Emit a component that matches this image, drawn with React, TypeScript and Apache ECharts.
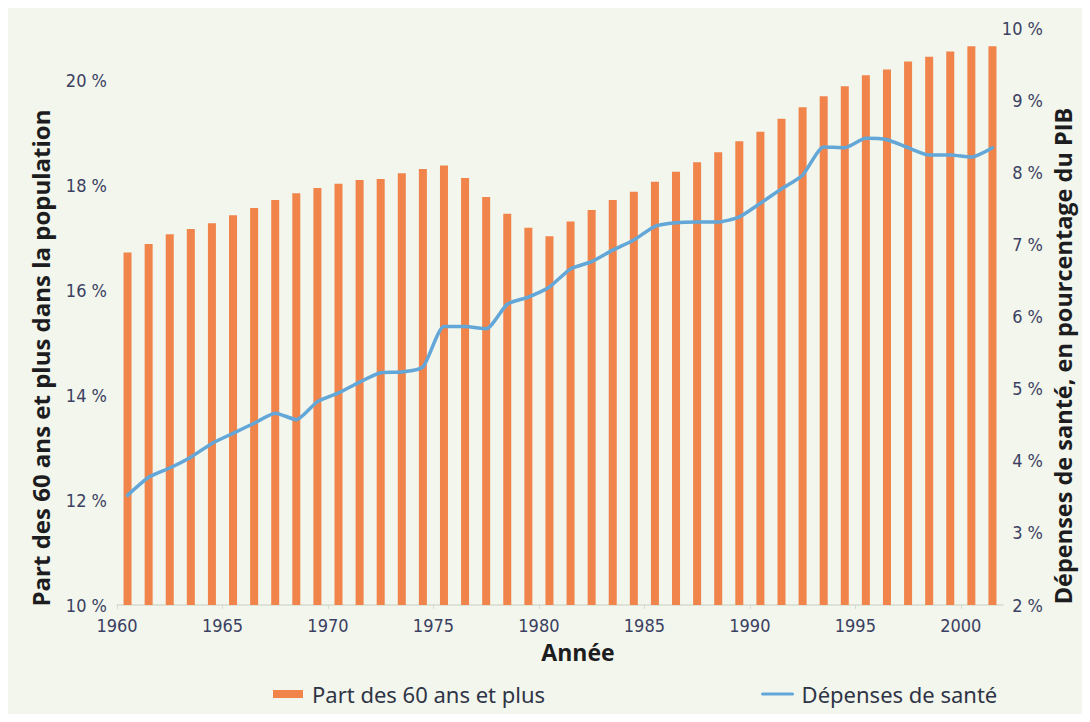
import React, { useEffect, useRef } from "react";
import * as echarts from "echarts";

const years = [
  "1960", "1961", "1962", "1963", "1964", "1965", "1966", "1967", "1968", "1969",
  "1970", "1971", "1972", "1973", "1974", "1975", "1976", "1977", "1978", "1979",
  "1980", "1981", "1982", "1983", "1984", "1985", "1986", "1987", "1988", "1989",
  "1990", "1991", "1992", "1993", "1994", "1995", "1996", "1997", "1998", "1999",
  "2000", "2001",
];

// Part des 60 ans et plus dans la population (%)
const partSeniors = [
  16.72, 16.88, 17.07, 17.17, 17.28, 17.43, 17.57, 17.72, 17.85, 17.95,
  18.03, 18.1, 18.12, 18.23, 18.31, 18.38, 18.14, 17.78, 17.46, 17.19,
  17.03, 17.31, 17.53, 17.72, 17.88, 18.07, 18.26, 18.44, 18.63, 18.84,
  19.02, 19.27, 19.49, 19.7, 19.89, 20.1, 20.21, 20.36, 20.45, 20.55,
  20.65, 20.65,
];

// Dépenses de santé, en pourcentage du PIB (%)
const depensesSante = [
  3.52, 3.77, 3.9, 4.05, 4.24, 4.38, 4.52, 4.66, 4.57, 4.82,
  4.94, 5.09, 5.22, 5.23, 5.3, 5.86, 5.86, 5.83, 6.17, 6.27,
  6.41, 6.66, 6.76, 6.92, 7.06, 7.25, 7.3, 7.31, 7.31, 7.38,
  7.57, 7.77, 7.96, 8.35, 8.34, 8.47, 8.45, 8.34, 8.24, 8.24,
  8.21, 8.34,
];

const xTickStart = 1960;
const xTickEnd = 2002;
const xTickStep = 5;

const leftMin = 10;
const leftMax = 21;
const leftStep = 2;
const rightMin = 2;
const rightMax = 10;
const rightStep = 1;

const seriesNames = ["Part des 60 ans et plus", "Dépenses de santé"];
const titles = {
  left: "Part des 60 ans et plus dans la population",
  right: "Dépenses de santé, en pourcentage du PIB",
  x: "Année",
};

const ORANGE = "#f0844b";
const BLUE = "#63a6d8";
const TICK_COLOR = "#3b4062";
const TITLE_COLOR = "#1d1d1f";
const TICK_FONT = "'Liberation Sans Narrow', 'DejaVu Sans Condensed', Roboto, sans-serif";
const TITLE_FONT = "'Open Sans', 'Noto Sans', sans-serif";

export default function App() {
  const ref = useRef<HTMLDivElement>(null);

  useEffect(() => {
    if (!ref.current) return;
    const chart = echarts.init(ref.current, undefined, { renderer: "svg" });
    const tickLabel = {
      color: TICK_COLOR,
      fontFamily: TICK_FONT,
      fontSize: 18,
    };
    const titleStyle = {
      fill: TITLE_COLOR,
      fontFamily: TITLE_FONT,
      fontWeight: "bold",
      fontSize: 24,
      align: "center",
      textAlign: "center",
      verticalAlign: "middle",
      textVerticalAlign: "middle",
    };
    chart.setOption({
      animation: false,
      backgroundColor: "#f2f6ec",
      grid: { left: 109, right: 79, top: 20, bottom: 109, containLabel: false },
      xAxis: [
        {
          type: "category",
          data: years,
          boundaryGap: true,
          position: "bottom",
          axisLine: { show: true, lineStyle: { color: "#d6dbcf", width: 1.5 } },
          axisTick: { show: false },
          axisLabel: { show: false },
          splitLine: { show: false },
        },
        {
          type: "value",
          min: xTickStart,
          max: xTickEnd,
          interval: xTickStep,
          position: "bottom",
          axisLine: { show: false },
          axisTick: { show: true, length: 4, lineStyle: { color: "#d6dbcf" } },
          axisLabel: {
            ...tickLabel,
            margin: 11,
            showMaxLabel: false,
            formatter: (v: number) => String(v),
          },
          splitLine: { show: false },
        },
      ],
      yAxis: [
        {
          type: "value",
          min: leftMin,
          max: leftMax,
          interval: leftStep,
          position: "left",
          axisLine: { show: false },
          axisTick: { show: false },
          splitLine: { show: false },
          axisLabel: {
            ...tickLabel,
            margin: 10,
            formatter: (v: number) => (v > 20 ? "" : `${v} %`),
          },
        },
        {
          type: "value",
          min: rightMin,
          max: rightMax,
          interval: rightStep,
          position: "right",
          axisLine: { show: false },
          axisTick: { show: false },
          splitLine: { show: false },
          axisLabel: {
            ...tickLabel,
            margin: 40,
            align: "right",
            formatter: (v: number) => `${v} %`,
          },
        },
      ],
      legend: {
        left: 260,
        top: 670,
        itemGap: 216,
        itemWidth: 30,
        itemHeight: 8,
        textStyle: {
          color: "#2f3446",
          fontFamily: "'Noto Sans', 'Open Sans', sans-serif",
          fontSize: 22,
          padding: [0, 0, 0, 4],
        },
        data: [
          { name: seriesNames[0], icon: "rect" },
          { name: seriesNames[1], itemStyle: { opacity: 0 }, lineStyle: { width: 3 } },
        ],
      },
      series: [
        {
          name: seriesNames[0],
          type: "bar",
          xAxisIndex: 0,
          yAxisIndex: 0,
          data: partSeniors,
          barWidth: 8,
          itemStyle: { color: ORANGE },
        },
        {
          name: seriesNames[1],
          type: "line",
          xAxisIndex: 0,
          yAxisIndex: 1,
          data: depensesSante,
          symbol: "none",
          smooth: 0.2,
          lineStyle: { color: BLUE, width: 3.5, join: "round", cap: "round" },
          itemStyle: { color: BLUE },
        },
      ],
      graphic: [
        {
          type: "text",
          x: 32,
          y: 350,
          rotation: Math.PI / 2,
          style: { ...titleStyle, text: titles.left },
        },
        {
          type: "text",
          x: 1055,
          y: 348,
          rotation: Math.PI / 2,
          style: { ...titleStyle, fontSize: 23.5, text: titles.right },
        },
        {
          type: "text",
          x: 570,
          y: 644,
          style: { ...titleStyle, fontSize: 23, text: titles.x },
        },
      ],
    });
    return () => chart.dispose();
  }, []);

  return <div ref={ref} style={{ width: 1074, height: 706 }} />;
}
